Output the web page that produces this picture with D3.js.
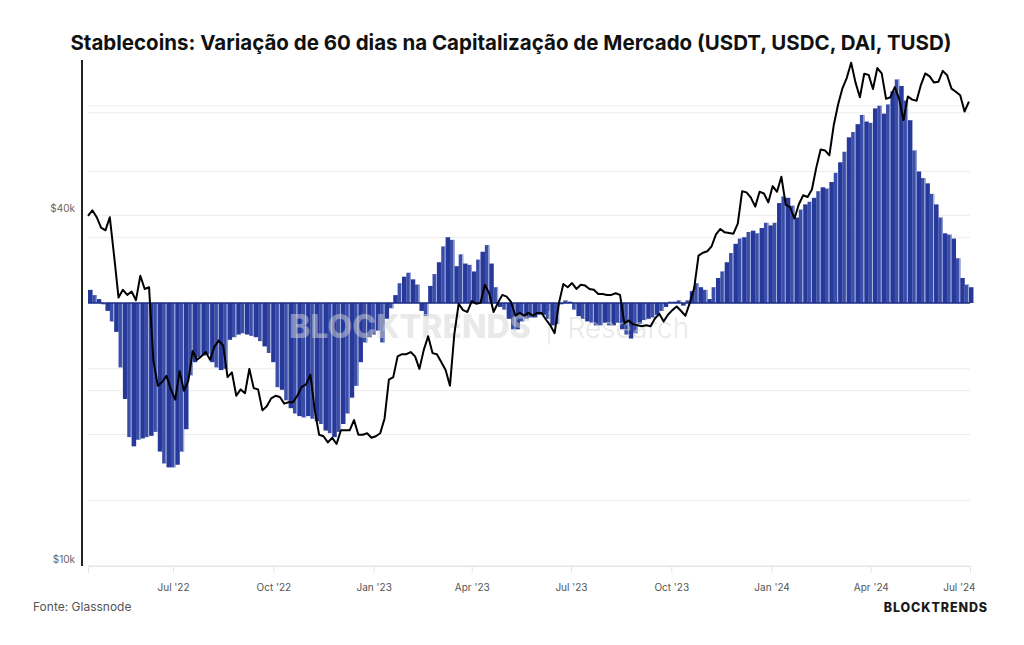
<!DOCTYPE html>
<html>
<head>
<meta charset="utf-8">
<script src="https://cdn.jsdelivr.net/npm/d3@7"></script>
<style>
  html, body { margin: 0; padding: 0; background: #fff; }
  svg { display: block; font-family: Inter, "Noto Sans", sans-serif; }
</style>
</head>
<body>
<svg id="chart" width="1024" height="645"></svg>
<script>
// ---- data: sampled every 4 days from 14 Apr 2022 to 30 Jun 2024 ----
const startDate = new Date(Date.UTC(2022, 3, 14));
const stepDays = 4;

// 60-day change in stablecoin market cap (USD billions)
const capChange60d = [
  1.0, 0.6, 0.3, -0.1, -0.6, -1.4, -2.2, -4.9, -7.3, -10.2,
  -10.9, -10.4, -10.3, -10.2, -10.1, -9.8, -11.3, -12.2, -12.5, -12.5,
  -12.3, -11.3, -9.6, -5.5, -4.5, -4.1, -4.0, -3.9, -4.5, -4.9,
  -5.1, -5.0, -2.8, -2.6, -2.4, -2.3, -2.4, -2.5, -2.6, -2.9,
  -3.3, -3.8, -4.5, -6.4, -6.6, -7.4, -8.0, -8.4, -8.6, -8.7,
  -8.6, -8.8, -9.0, -9.2, -9.7, -9.9, -10.2, -9.8, -9.2, -8.4,
  -7.2, -6.3, -4.5, -3.0, -2.6, -2.4, -2.1, -3.0, -1.2, -0.4,
  0.6, 1.5, 2.0, 2.3, 1.8, 1.4, -0.6, -1.0, 1.3, 2.2,
  3.1, 4.3, 5.0, 4.8, 2.8, 3.7, 3.0, 2.9, 2.4, 3.3,
  3.9, 4.4, 3.0, 1.2, -0.3, -0.5, -1.2, -2.0, -2.0, -1.4,
  -1.2, -1.1, -1.1, -0.9, -0.9, -1.2, -1.7, -1.6, -0.1, 0.2,
  0.1, -0.5, -1.0, -1.2, -1.4, -1.5, -1.7, -1.7, -1.5, -1.7,
  -1.7, -1.5, -2.0, -2.4, -2.7, -2.3, -1.6, -1.3, -1.2, -1.1,
  -0.9, -0.6, -0.3, 0.1, 0.1, 0.2, -0.2, 0.2, 0.9, 1.5,
  1.2, 1.0, 0.3, 1.2, 1.9, 2.4, 3.1, 3.8, 4.5, 4.9,
  5.0, 5.4, 5.5, 5.3, 5.7, 6.1, 5.9, 6.1, 7.6, 8.1,
  8.0, 7.4, 6.5, 7.1, 7.5, 7.7, 8.0, 8.5, 8.8, 8.7,
  9.2, 9.9, 10.7, 11.5, 12.6, 13.0, 13.6, 14.3, 13.8, 13.7,
  14.8, 15.0, 14.4, 15.1, 16.1, 17.0, 16.5, 15.4, 13.9, 11.6,
  10.0, 9.5, 9.1, 8.3, 7.5, 6.5, 5.3, 5.2, 4.9, 3.4,
  1.9, 1.4, 1.2
];

// BTC price (USD thousands)
const btcPrice = [
  // 2022
  39.9, 40.8, 39.7, 38.1, 37.7, 39.7, 34.0, 28.9, 29.8, 29.2,
  29.6, 28.6, 31.5, 29.9, 30.1, 22.5, 20.4, 20.7, 21.2, 20.1,
  19.3, 21.6, 20.0, 20.8, 23.4, 22.6, 22.9, 23.3, 22.6, 23.8,
  24.4, 23.9, 21.1, 21.5, 19.6, 20.1, 19.8, 21.8, 20.2, 20.1,
  18.5, 18.8, 19.4, 19.6, 19.5, 19.0, 19.1, 19.1, 19.6, 20.3,
  20.5, 21.3, 18.5, 16.8, 16.7, 16.3, 16.6, 16.2, 17.1, 17.1,
  17.1, 17.8, 16.8, 16.8, 16.9, 16.6,
  // 2023
  16.7, 16.9, 17.9, 20.9, 21.1, 22.9, 23.1, 23.1,
  23.3, 22.9, 21.8, 23.5, 24.8, 23.2, 23.1,
  22.4, 21.7, 20.4, 25.0, 28.2, 27.5, 27.3,
  28.5, 28.2, 28.3, 30.4, 29.4, 27.3, 28.3, 29.2,
  29.0, 28.4, 26.9, 27.2, 26.9, 27.2, 26.9, 27.2,
  27.2, 26.5, 25.9, 25.1, 28.3, 30.5, 30.1,
  30.6, 29.9, 30.4, 30.3, 29.9, 29.8, 29.3, 29.3,
  29.2, 29.2, 29.4, 29.2, 26.1, 26.4, 26.0, 25.9,
  25.8, 25.9, 25.8, 26.6, 27.1, 26.3, 27.0,
  27.5, 27.9, 27.4, 26.9, 28.3, 30.0, 34.1, 34.5,
  34.7, 35.4, 37.1, 37.9, 37.4, 37.3, 37.2,
  38.7, 44.0, 43.8, 42.9, 41.4, 43.9, 43.6, 42.1,
  // 2024
  44.9, 43.9, 46.6, 41.7, 41.3, 39.5, 41.8, 43.3,
  43.0, 44.3, 48.3, 51.9, 51.7, 50.7, 57.1,
  62.0, 66.1, 68.9, 73.1, 67.6, 63.8, 70.0, 69.7,
  65.9, 71.6, 70.1, 63.4, 63.8, 66.4, 63.4,
  58.3, 64.0, 63.2, 62.9, 67.0, 70.1, 69.3, 67.6,
  67.8, 70.8, 69.6, 66.0, 65.2, 64.3, 60.3, 62.7
];

const priceGrid = [10, 20, 40, 60];
const priceLabels = [40, 10];
const capGrid = [-20, -15, -10, -5, 5, 10, 15];

const titleText = "Stablecoins: Variação de 60 dias na Capitalização de Mercado (USDT, USDC, DAI, TUSD)";

// ---- scales ----
const svg = d3.select("#chart");
const plotLeft = 88, plotRight = 970, plotTop = 40, plotBottom = 566;
const endDate = new Date(Date.UTC(2024, 6, 1));

const x = d3.scaleUtc().domain([startDate, endDate]).range([plotLeft, plotRight]);
const yCap = d3.scaleLinear().domain([-20, 20]).range([plotBottom, plotTop]);
const yPrice = d3.scaleLog().domain([10, 80]).range([plotBottom, plotTop]);

const dates = capChange60d.map((d, i) => d3.utcDay.offset(startDate, i * stepDays));

// title
svg.append("text")
  .attr("x", 511).attr("y", 50)
  .attr("text-anchor", "middle")
  .attr("font-size", 20.5).attr("font-weight", 700)
  .attr("fill", "#111")
  .text(titleText);

// gridlines
svg.append("g").selectAll("line")
  .data(capGrid)
  .join("line")
  .attr("x1", plotLeft).attr("x2", plotRight)
  .attr("y1", (d) => yCap(d)).attr("y2", (d) => yCap(d))
  .attr("stroke", "#ececec").attr("stroke-width", 1);

svg.append("g").selectAll("line")
  .data(priceGrid)
  .join("line")
  .attr("x1", plotLeft).attr("x2", plotRight)
  .attr("y1", (d) => yPrice(d)).attr("y2", (d) => yPrice(d))
  .attr("stroke", "#ececec").attr("stroke-width", 1);

// bars
const barW = x(d3.utcDay.offset(startDate, stepDays)) - x(startDate);
svg.append("g").selectAll("rect")
  .data(capChange60d)
  .join("rect")
  .attr("x", (d, i) => x(dates[i]))
  .attr("width", barW + 0.2)
  .attr("y", (d) => yCap(Math.max(0, d)))
  .attr("height", (d) => Math.abs(yCap(d) - yCap(0)))
  .attr("fill", (d, i) => (i % 2 ? "#3a4ea8" : "#26399a"));

// light stripes between bar pairs
svg.append("g").selectAll("line")
  .data(capChange60d.filter((d, i) => i % 2 === 1))
  .join("line")
  .attr("x1", (d, i) => x(dates[i * 2 + 1]) + barW - 0.5)
  .attr("x2", (d, i) => x(dates[i * 2 + 1]) + barW - 0.5)
  .attr("y1", (d) => yCap(0))
  .attr("y2", (d) => yCap(d))
  .attr("stroke", "#aab4e0").attr("stroke-width", 1);

// zero line
svg.append("line")
  .attr("x1", plotLeft).attr("x2", plotRight)
  .attr("y1", yCap(0)).attr("y2", yCap(0))
  .attr("stroke", "#1c2c85").attr("stroke-width", 1.5);

// watermark
const wm = svg.append("text")
  .attr("x", 289).attr("y", 338)
  .attr("fill", "#d4d4d4").attr("fill-opacity", 0.5);
wm.append("tspan").attr("font-size", 32).attr("font-weight", 800).text("BLOCKTRENDS");
wm.append("tspan").attr("font-size", 28).attr("font-weight", 300).attr("dx", 14).text("|");
wm.append("tspan").attr("font-size", 28).attr("font-weight", 300).attr("dx", 14).text("Research");

// price line
const line = d3.line()
  .x((d, i) => x(dates[i]))
  .y((d) => yPrice(d));

svg.append("path")
  .datum(btcPrice)
  .attr("d", line)
  .attr("fill", "none")
  .attr("stroke", "#000")
  .attr("stroke-width", 2)
  .attr("stroke-linejoin", "round");

// left axis line
svg.append("line")
  .attr("x1", 82).attr("x2", 82)
  .attr("y1", 60).attr("y2", plotBottom)
  .attr("stroke", "#222").attr("stroke-width", 2);

svg.append("g").selectAll("text")
  .data(priceLabels)
  .join("text")
  .attr("x", 75)
  .attr("y", (d) => yPrice(d) - 3)
  .attr("text-anchor", "end")
  .attr("font-size", 10)
  .attr("fill", "#666")
  .text((d) => "$" + d + "k");

// x axis
const xAxis = svg.append("g")
  .attr("transform", `translate(0,${plotBottom})`)
  .call(d3.axisBottom(x)
    .ticks(d3.utcMonth.every(3))
    .tickFormat(d3.utcFormat("%b '%y"))
    .tickSize(7)
    .tickPadding(11));
xAxis.select(".domain").attr("stroke", "#e6e6e6");
xAxis.selectAll(".tick line").attr("stroke", "#e6e6e6");
xAxis.selectAll(".tick text")
  .attr("font-family", "Inter, sans-serif")
  .attr("font-size", 10)
  .attr("fill", "#555");
xAxis.selectAll(".tick:last-of-type text").attr("text-anchor", "end").attr("dx", 5);

// footer
svg.append("text")
  .attr("x", 33).attr("y", 611)
  .attr("font-size", 12).attr("fill", "#555")
  .text("Fonte: Glassnode");

svg.append("text")
  .attr("x", 988).attr("y", 612)
  .attr("text-anchor", "end")
  .attr("font-size", 12.5).attr("font-weight", 800)
  .attr("letter-spacing", 0.9)
  .attr("fill", "#1a1a1a")
  .text("BLOCKTRENDS");
</script>
</body>
</html>
